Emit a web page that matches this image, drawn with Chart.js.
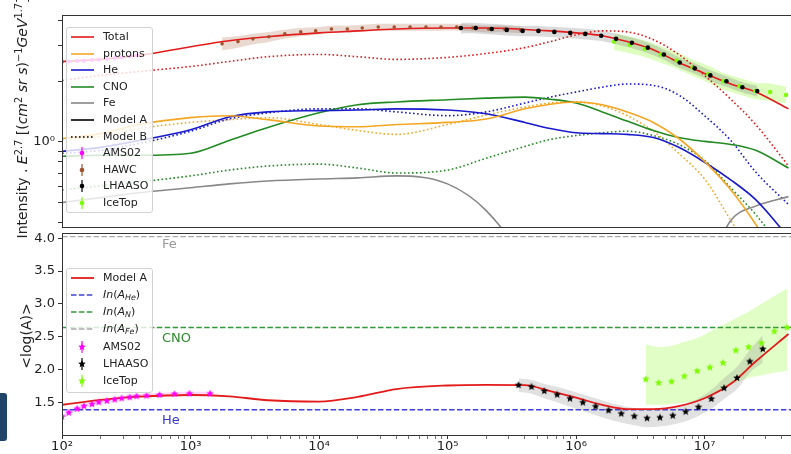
<!DOCTYPE html>
<html>
<head>
<meta charset="utf-8">
<script src="https://cdn.jsdelivr.net/npm/chart.js@4.4.0/dist/chart.umd.min.js"></script>
<style>
  body { margin: 0; background: #fff; }
  #wrap { position: relative; width: 791px; height: 454px; overflow: hidden; background: #fff;
          font-family: "DejaVu Sans", sans-serif; color: #222; }
  canvas { position: absolute; left: 0; }
  #top { top: 0; }
  #bottom { top: 229px; }
  .ytitle { position: absolute; white-space: nowrap; font-size: 14px;
            transform: translate(-50%, -50%) rotate(-90deg); }
  sup { font-size: 70%; vertical-align: 0; position: relative; top: -0.5em; }
  sub { font-size: 72%; vertical-align: 0; position: relative; top: 0.3em; }
  .legend { position: absolute; background: rgba(255,255,255,0.8); border: 1px solid #d2d2d2;
            border-radius: 3px; box-sizing: border-box; }
  .row { position: absolute; left: 0; height: 16px; width: 100%; font-size: 11px; line-height: 16px; }
  .row svg { position: absolute; left: 3px; top: 0; }
  .row span { position: absolute; left: 36px; top: 0; white-space: nowrap; }
  .tag { position: absolute; font-size: 13px; line-height: 13px; }
  #logo { position: absolute; left: 0; top: 393px; width: 7px; height: 48px; background: #1f4468;
          border-radius: 0 3px 3px 0; }
</style>
</head>
<body>
<div id="wrap">
  <canvas id="top" width="800" height="231"></canvas>
  <canvas id="bottom" width="800" height="225"></canvas>
  <div class="ytitle" style="left:22px; top:118px;">Intensity . <i>E</i><sup>2.7</sup> [(<i>cm</i><sup>2</sup> <i>sr s</i>)<sup>−1</sup><i>GeV</i><sup>1.7</sup>]</div>
  <div class="ytitle" style="left:26px; top:336px;">&lt;log(A)&gt;</div>
  <div class="tag" style="left:162px; top:237px; color:#999;">Fe</div>
  <div class="tag" style="left:162px; top:331px; color:#2e8b2e;">CNO</div>
  <div class="tag" style="left:162px; top:413px; color:#3a3ad0;">He</div>
  <div class="legend" id="legTop" style="left:66px; top:27px; width:87px; height:186px;"></div>
  <div class="legend" id="legBot" style="left:66px; top:268px; width:87px; height:125px;"></div>
  <div id="logo"></div>
</div>
<script>
// ---------------- DATA ----------------
// model curves share one energy grid (GeV)
const E_GRID = [1e2, 2e2, 4e2, 1e3, 2e3, 4e3, 1e4, 2e4, 4e4, 1e5, 2e5, 4e5, 6.3e5,
                1e6, 1.6e6, 2.5e6, 4e6, 6.3e6, 1e7, 1.6e7, 2.5e7, 4.5e7];

// top panel, Model A (solid) and Model B (dotted)
const totalA  = [2.51, 2.57, 2.69, 2.97, 3.18, 3.33, 3.48, 3.56, 3.64, 3.68, 3.68, 3.62, 3.56, 3.48, 3.37, 3.15, 2.87, 2.48, 2.19, 1.94, 1.77, 1.46];
const totalB  = [2.02, 2.14, 2.24, 2.37, 2.51, 2.65, 2.72, 2.65, 2.57, 2.63, 2.75, 2.94, 3.15, 3.40, 3.56, 3.52, 3.22, 2.72, 2.14, 1.63, 1.22, 0.76];
const protonA = [1.04, 1.10, 1.22, 1.32, 1.35, 1.29, 1.20, 1.19, 1.22, 1.25, 1.30, 1.46, 1.54, 1.58, 1.53, 1.41, 1.25, 1.04, 0.80, 0.578, 0.39, 0.214];
const protonB = [1.03, 1.064, 1.165, 1.25, 1.29, 1.32, 1.22, 1.14, 1.09, 1.22, 1.36, 1.49, 1.56, 1.58, 1.51, 1.35, 1.13, 0.878, 0.655, 0.408, 0.254, 0.153];
const heA     = [0.898, 0.94, 1.017, 1.15, 1.33, 1.41, 1.43, 1.44, 1.46, 1.44, 1.38, 1.25, 1.165, 1.11, 1.10, 1.09, 1.052, 0.94, 0.793, 0.648, 0.517, 0.337];
const heB     = [0.878, 0.908, 0.983, 1.13, 1.30, 1.395, 1.46, 1.46, 1.41, 1.35, 1.41, 1.56, 1.67, 1.77, 1.87, 1.94, 1.91, 1.71, 1.35, 1.017, 0.709, 0.489];
const cnoA    = [0.849, 0.858, 0.858, 0.878, 1.017, 1.18, 1.395, 1.53, 1.58, 1.62, 1.65, 1.67, 1.63, 1.56, 1.41, 1.27, 1.14, 1.052, 1.006, 0.972, 0.908, 0.742];
const cnoB    = [0.578, 0.605, 0.633, 0.678, 0.725, 0.759, 0.776, 0.742, 0.701, 0.725, 0.83, 0.95, 1.029, 1.076, 1.11, 1.13, 1.076, 0.972, 0.811, 0.592, 0.436, 0.268];
const feA     = [0.50, 0.529, 0.559, 0.592, 0.619, 0.64, 0.655, 0.663, 0.678, 0.619, 0.456, 0.25, 0.13, 0.09, 0.08, 0.08, 0.09, 0.12, 0.22, 0.407, 0.48, 0.535];

// bottom panel, <lnA> of Model A
const lnAModelA = [1.46, 1.535, 1.585, 1.61, 1.59, 1.53, 1.51, 1.58, 1.70, 1.755, 1.765, 1.76, 1.67, 1.57, 1.46, 1.395, 1.395, 1.44, 1.56, 1.78, 2.12, 2.54];
const lnA_He = 1.386, lnA_N = 2.639, lnA_Fe = 4.025;

// measurements, top panel
const amsE     = [100, 113, 131, 148, 171, 193, 223, 257, 291, 336, 380];
const amsFlux  = [2.50, 2.51, 2.52, 2.53, 2.55, 2.56, 2.58, 2.61, 2.63, 2.66, 2.69];

const hawcE    = [1.76e3, 2.34e3, 3.06e3, 4.07e3, 5.42e3, 7.21e3, 9.42e3, 1.25e4, 1.66e4, 2.17e4,
                  2.89e4, 3.85e4, 5.11e4, 6.8e4, 8.9e4, 1.18e5, 1.57e5, 2.09e5, 2.78e5, 3.70e5];
const hawcFlux = [3.07, 3.15, 3.25, 3.33, 3.44, 3.52, 3.56, 3.64, 3.64, 3.68, 3.72, 3.72, 3.72, 3.72, 3.72, 3.72, 3.68, 3.64, 3.64, 3.60];
const hawcLow  = [2.85, 2.94, 3.05, 3.14, 3.26, 3.35, 3.40, 3.48, 3.49, 3.53, 3.57, 3.57, 3.57, 3.57, 3.57, 3.57, 3.54, 3.50, 3.50, 3.47];
const hawcHigh = [3.30, 3.36, 3.45, 3.52, 3.61, 3.68, 3.71, 3.78, 3.78, 3.82, 3.86, 3.86, 3.86, 3.86, 3.86, 3.86, 3.82, 3.78, 3.78, 3.74];

const lhaasoE    = [1.27e5, 1.66e5, 2.21e5, 2.89e5, 3.84e5, 5.10e5, 6.78e5, 9.02e5, 1.18e6, 1.57e6,
                    2.05e6, 2.72e6, 3.62e6, 4.82e6, 6.41e6, 8.38e6, 1.11e7, 1.48e7, 1.97e7, 2.57e7];
const lhaasoFlux = [3.68, 3.68, 3.64, 3.60, 3.56, 3.56, 3.52, 3.48, 3.44, 3.37, 3.25, 3.11, 2.94, 2.72, 2.48, 2.32, 2.14, 2.00, 1.87, 1.79];
const lhaasoLow  = [3.46, 3.46, 3.42, 3.38, 3.35, 3.35, 3.31, 3.27, 3.23, 3.17, 3.06, 2.92, 2.76, 2.56, 2.33, 2.18, 2.01, 1.88, 1.76, 1.68];
const lhaasoHigh = [3.90, 3.90, 3.86, 3.82, 3.77, 3.77, 3.73, 3.69, 3.65, 3.57, 3.45, 3.30, 3.12, 2.88, 2.63, 2.46, 2.27, 2.12, 1.98, 1.90];

const icetopE    = [1.98e6, 2.63e6, 3.43e6, 4.56e6, 6.07e6, 8.07e6, 1.07e7, 1.40e7, 1.87e7, 2.48e7, 3.24e7, 4.31e7];
const icetopFlux = [3.15, 3.04, 2.90, 2.72, 2.54, 2.34, 2.17, 2.00, 1.89, 1.79, 1.77, 1.71];
const icetopLow  = [2.86, 2.76, 2.64, 2.47, 2.31, 2.13, 1.97, 1.82, 1.72, 1.63, 1.60, 1.55];
const icetopHigh = [3.47, 3.34, 3.19, 2.99, 2.79, 2.57, 2.39, 2.20, 2.08, 1.97, 1.95, 1.88];

// measurements, bottom panel (<lnA>)
const amsLnE    = [100, 113, 131, 148, 171, 193, 223, 257, 291, 336, 380, 455, 574, 750, 980, 1420];
const amsLnA    = [1.28, 1.34, 1.40, 1.44, 1.47, 1.50, 1.52, 1.54, 1.56, 1.575, 1.59, 1.60, 1.61, 1.625, 1.63, 1.63];
const amsLnLow  = [1.25, 1.31, 1.37, 1.41, 1.44, 1.47, 1.49, 1.51, 1.53, 1.545, 1.56, 1.57, 1.58, 1.595, 1.60, 1.60];
const amsLnHigh = [1.31, 1.37, 1.43, 1.47, 1.50, 1.53, 1.55, 1.57, 1.59, 1.605, 1.62, 1.63, 1.64, 1.655, 1.66, 1.66];

const lhaasoLnE    = [3.57e5, 4.5e5, 5.66e5, 7.13e5, 8.97e5, 1.13e6, 1.42e6, 1.79e6, 2.25e6, 2.84e6,
                      3.57e6, 4.5e6, 5.66e6, 7.13e6, 8.97e6, 1.13e7, 1.42e7, 1.79e7, 2.25e7, 2.84e7];
const lhaasoLnA    = [1.76, 1.735, 1.67, 1.615, 1.555, 1.495, 1.435, 1.375, 1.325, 1.285, 1.255, 1.265, 1.295, 1.355, 1.425, 1.55, 1.715, 1.87, 2.12, 2.31];
const lhaasoLnLow  = [1.66, 1.63, 1.56, 1.50, 1.43, 1.37, 1.30, 1.24, 1.19, 1.15, 1.12, 1.13, 1.16, 1.21, 1.29, 1.40, 1.55, 1.70, 1.95, 2.10];
const lhaasoLnHigh = [1.86, 1.84, 1.78, 1.73, 1.68, 1.62, 1.56, 1.50, 1.45, 1.41, 1.38, 1.39, 1.42, 1.48, 1.56, 1.69, 1.87, 2.04, 2.30, 2.52];

const icetopLnE    = [3.49e6, 4.39e6, 5.53e6, 6.96e6, 8.76e6, 1.10e7, 1.39e7, 1.75e7, 2.20e7, 2.77e7, 3.49e7, 4.39e7];
const icetopLnA    = [1.85, 1.795, 1.815, 1.895, 1.975, 2.03, 2.10, 2.29, 2.34, 2.40, 2.58, 2.64];
const icetopLnLow  = [1.46, 1.46, 1.47, 1.49, 1.52, 1.60, 1.70, 1.80, 1.87, 1.91, 1.95, 1.98];
const icetopLnHigh = [2.38, 2.34, 2.36, 2.42, 2.48, 2.58, 2.68, 2.78, 2.88, 3.00, 3.12, 3.23];

// axes
const X_MIN = 100, X_MAX = 5.15e7;
const X_MAJOR = [1e2, 1e3, 1e4, 1e5, 1e6, 1e7];
const X_LABELS = ['10²', '10³', '10⁴', '10⁵', '10⁶', '10⁷'];
const Y_TOP_TICKS = [0.4, 0.5, 0.6, 0.7, 0.8, 0.9, 1, 2, 3, 4];
const Y_BOT_TICKS = [1.5, 2.0, 2.5, 3.0, 3.5, 4.0];

// ---------------- COLOURS ----------------
const C = {
  total: '#e31b1b', proton: '#f5a623', he: '#1a1acd', cno: '#238b23', fe: '#888888',
  ams: '#ff00ff', hawc: '#a0522d', lhaaso: '#000000', icetop: '#7cfc00',
  dHe: '#4040d8', dN: '#33993a', dFe: '#aaaaaa'
};
const DOT = [1.6, 2.4];
const DASH = [5.5, 2.4];

// ---------------- HELPERS ----------------
Chart.defaults.font.family = '"DejaVu Sans", sans-serif';
Chart.defaults.color = '#222';

function pts(xs, ys) { return xs.map((x, i) => ({ x: x, y: ys[i] })); }

function curve(label, xs, ys, color, dash, width) {
  return { label: label, data: pts(xs, ys), borderColor: color, borderWidth: width || 1.6,
           borderDash: dash || [], pointRadius: 0, fill: false, cubicInterpolationMode: 'monotone' };
}
function dots(label, xs, ys, color, r, style) {
  return { label: label, data: pts(xs, ys), showLine: false, pointRadius: r, pointStyle: style || 'circle',
           pointBackgroundColor: color, pointBorderColor: color, pointBorderWidth: 0, borderColor: color };
}
function band(xs, lo, hi, color) {
  return [
    { label: 'lo', data: pts(xs, lo), borderColor: 'transparent', borderWidth: 0, pointRadius: 0, fill: false, tension: 0.35 },
    { label: 'hi', data: pts(xs, hi), borderColor: 'transparent', borderWidth: 0, pointRadius: 0, fill: '-1',
      backgroundColor: color, tension: 0.35 }
  ];
}
function starPoints(cx, cy, r) {
  const p = [];
  for (let i = 0; i < 10; i++) {
    const rr = i % 2 ? r * 0.45 : r;
    const a = -Math.PI / 2 + i * Math.PI / 5;
    p.push([cx + rr * Math.cos(a), cy + rr * Math.sin(a)]);
  }
  return p;
}
function starImg(color, r) {
  const c = document.createElement('canvas');
  const s = Math.ceil(r * 2 + 2);
  c.width = c.height = s;
  const g = c.getContext('2d');
  g.fillStyle = color;
  g.beginPath();
  starPoints(s / 2, s / 2, r).forEach(p => g.lineTo(p[0], p[1]));
  g.closePath();
  g.fill();
  return c;
}

// frame round the plot area
const frame = {
  id: 'frame',
  afterDatasetsDraw(chart) {
    const a = chart.chartArea, ctx = chart.ctx;
    ctx.save();
    ctx.strokeStyle = '#333';
    ctx.lineWidth = 1;
    ctx.strokeRect(Math.round(a.left) + 0.5, Math.round(a.top) + 0.5,
                   Math.round(a.right - a.left), Math.round(a.bottom - a.top));
    ctx.restore();
  }
};

function xTicks() {
  const t = [];
  X_MAJOR.concat([1e8]).forEach(m => {
    for (let k = 1; k < 10; k++) {
      const v = m * k;
      if (v >= X_MIN && v <= X_MAX) t.push({ value: v, major: k === 1 });
    }
  });
  return t;
}
function xLabel(v) {
  const i = X_MAJOR.indexOf(v);
  return i >= 0 ? X_LABELS[i] : '';
}
// keep the plot area exactly where the layout puts it
function fixY(s) { s.width = 62; s.paddingTop = 0; s.paddingBottom = 0; }
function fixX(h) { return s => { s.height = h; s.paddingLeft = 0; s.paddingRight = 0; }; }

const tickFont = { size: 13 };
const tickGrid = { drawOnChartArea: false, tickLength: 4, tickColor: '#333', tickWidth: 1 };

// ---------------- TOP CHART ----------------
const topSets = [
  dots('LHAASO', lhaasoE, lhaasoFlux, C.lhaaso, 2.3),
  dots('IceTop', icetopE, icetopFlux, C.icetop, 2.2),
  dots('HAWC', hawcE, hawcFlux, C.hawc, 1.8),
  dots('AMS02', amsE, amsFlux, C.ams, 2),
  curve('Total', E_GRID, totalA, C.total),
  curve('protons', E_GRID, protonA, C.proton),
  curve('He', E_GRID, heA, C.he),
  curve('CNO', E_GRID, cnoA, C.cno),
  curve('Fe', E_GRID, feA, C.fe),
  curve('Total B', E_GRID, totalB, C.total, DOT),
  curve('protons B', E_GRID, protonB, C.proton, DOT),
  curve('He B', E_GRID, heB, C.he, DOT),
  curve('CNO B', E_GRID, cnoB, C.cno, DOT)
].concat(
  band(lhaasoE, lhaasoLow, lhaasoHigh, 'rgba(110,110,110,0.25)'),
  band(icetopE, icetopLow, icetopHigh, 'rgba(124,252,0,0.25)'),
  band(hawcE, hawcLow, hawcHigh, 'rgba(160,82,45,0.22)')
);

new Chart(document.getElementById('top'), {
  type: 'line',
  data: { datasets: topSets },
  options: {
    responsive: false, animation: false, devicePixelRatio: 1,
    layout: { padding: { top: 15, bottom: 1, left: 0, right: 0 } },
    plugins: { legend: { display: false }, tooltip: { enabled: false } },
    scales: {
      x: { type: 'logarithmic', min: X_MIN, max: X_MAX, display: false },
      y: {
        type: 'logarithmic', min: 0.378, max: 4.27,
        afterFit: fixY,
        afterBuildTicks: s => { s.ticks = Y_TOP_TICKS.map(v => ({ value: v, major: v === 1 })); },
        ticks: { callback: v => (v === 1 ? '10⁰' : ''), font: tickFont, color: '#222', padding: 3, autoSkip: false },
        grid: tickGrid,
        border: { display: false }
      }
    }
  },
  plugins: [frame]
});

// ---------------- BOTTOM CHART ----------------
const STAR_AMS = starImg(C.ams, 4);
const STAR_LHAASO = starImg(C.lhaaso, 4);
const STAR_ICETOP = starImg(C.icetop, 4);

const botSets = [
  dots('LHAASO', lhaasoLnE, lhaasoLnA, C.lhaaso, 4, STAR_LHAASO),
  dots('IceTop', icetopLnE, icetopLnA, C.icetop, 4, STAR_ICETOP),
  dots('AMS02', amsLnE, amsLnA, C.ams, 4, STAR_AMS),
  curve('Model A', E_GRID, lnAModelA, C.total, [], 1.8),
  curve('He', [X_MIN, X_MAX], [lnA_He, lnA_He], C.dHe, DASH, 1.4),
  curve('N', [X_MIN, X_MAX], [lnA_N, lnA_N], C.dN, DASH, 1.4),
  curve('Fe', [X_MIN, X_MAX], [lnA_Fe, lnA_Fe], C.dFe, DASH, 1.4)
].concat(
  band(lhaasoLnE, lhaasoLnLow, lhaasoLnHigh, 'rgba(120,120,120,0.22)'),
  band(icetopLnE, icetopLnLow, icetopLnHigh, 'rgba(124,252,0,0.22)'),
  band(amsLnE, amsLnLow, amsLnHigh, 'rgba(255,0,255,0.15)')
);

new Chart(document.getElementById('bottom'), {
  type: 'line',
  data: { datasets: botSets },
  options: {
    responsive: false, animation: false, devicePixelRatio: 1,
    layout: { padding: { top: 1, bottom: 0, left: 0, right: 0 } },
    plugins: { legend: { display: false }, tooltip: { enabled: false } },
    scales: {
      x: {
        type: 'logarithmic', min: X_MIN, max: X_MAX,
        afterFit: fixX(19),
        afterBuildTicks: s => { s.ticks = xTicks(); },
        ticks: { callback: v => xLabel(v), font: tickFont, color: '#222', padding: 0,
                 autoSkip: false, maxRotation: 0 },
        grid: { drawOnChartArea: false, tickLength: 4, tickColor: '#333',
                tickWidth: c => (c.tick && c.tick.major ? 1 : 0.7) },
        border: { display: false }
      },
      y: {
        type: 'linear', min: 1.0, max: 4.08,
        afterFit: fixY,
        afterBuildTicks: s => { s.ticks = Y_BOT_TICKS.map(v => ({ value: v })); },
        ticks: { callback: v => v.toFixed(1), font: tickFont, color: '#222', padding: 3, autoSkip: false },
        grid: tickGrid,
        border: { display: false }
      }
    }
  },
  plugins: [frame]
});

// ---------------- LEGENDS ----------------
function svgLine(color, dash, w) {
  return '<svg width="26" height="16"><line x1="1" y1="8" x2="24" y2="8" stroke="' + color +
         '" stroke-width="' + (w || 1.6) + '"' + (dash ? ' stroke-dasharray="' + dash + '"' : '') + '/></svg>';
}
function svgErr(color, star) {
  const mark = star
    ? '<polygon fill="' + color + '" points="' + starPoints(12, 8, 4).map(p => p.join(',')).join(' ') + '"/>'
    : '<circle cx="12" cy="8" r="2.3" fill="' + color + '"/>';
  return '<svg width="26" height="16"><line x1="12" y1="2" x2="12" y2="14" stroke="' + color +
         '" stroke-width="1.2"/>' + mark + '</svg>';
}
function buildLegend(id, entries, centers, boxTop) {
  const box = document.getElementById(id);
  entries.forEach((e, i) => {
    const r = document.createElement('div');
    r.className = 'row';
    r.style.top = (centers[i] - boxTop - 1 - 8) + 'px';
    r.innerHTML = e[0] + '<span>' + e[1] + '</span>';
    box.appendChild(r);
  });
}

const topEntries = [
  [svgLine(C.total), 'Total'],
  [svgLine(C.proton), 'protons'],
  [svgLine(C.he), 'He'],
  [svgLine(C.cno), 'CNO'],
  [svgLine(C.fe), 'Fe'],
  [svgLine('#000'), 'Model A'],
  [svgLine('#000', '1.6 2.4'), 'Model B'],
  [svgErr(C.ams), 'AMS02'],
  [svgErr(C.hawc), 'HAWC'],
  [svgErr(C.lhaaso), 'LHAASO'],
  [svgErr(C.icetop), 'IceTop']
];
const topCenters = [37, 53.6, 70.2, 86.8, 103.4, 120, 136.6, 153.2, 169.8, 186.4, 203];
buildLegend('legTop', topEntries, topCenters, 27);

const botEntries = [
  [svgLine(C.total, null, 1.8), 'Model A'],
  [svgLine(C.dHe, '5.5 2.4', 1.4), '<i>In</i>(<i>A</i><sub><i>He</i></sub>)'],
  [svgLine(C.dN, '5.5 2.4', 1.4), '<i>In</i>(<i>A</i><sub><i>N</i></sub>)'],
  [svgLine(C.dFe, '5.5 2.4', 1.4), '<i>In</i>(<i>A</i><sub><i>Fe</i></sub>)'],
  [svgErr(C.ams, true), 'AMS02'],
  [svgErr(C.lhaaso, true), 'LHAASO'],
  [svgErr(C.icetop, true), 'IceTop']
];
const botCenters = [277.7, 295, 311.7, 329, 347, 364, 380.7];
buildLegend('legBot', botEntries, botCenters, 268);
</script>
</body>
</html>
